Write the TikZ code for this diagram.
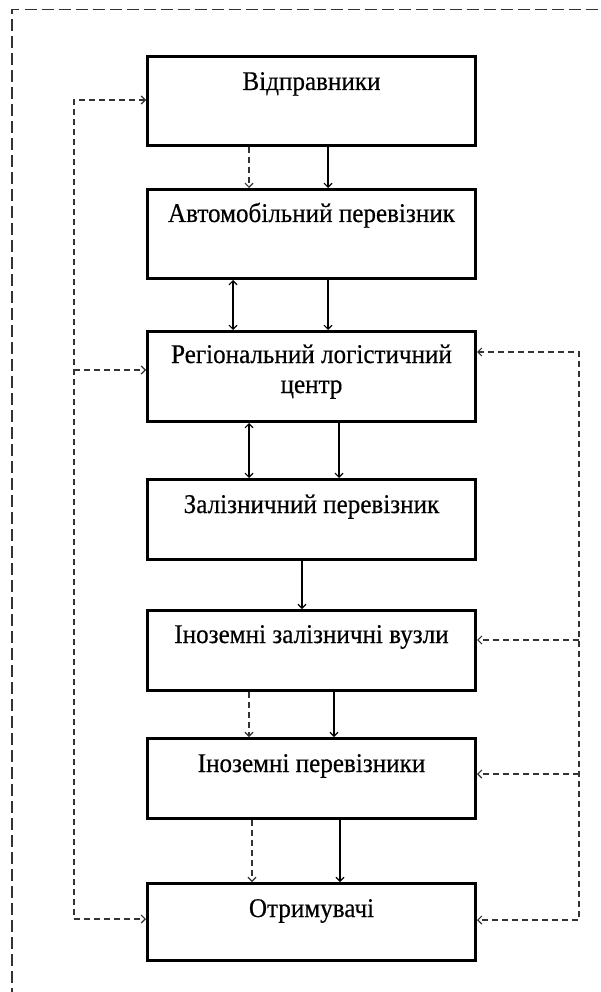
\documentclass[tikz,border=0pt]{standalone}
\usepackage{fontspec}
\setmainfont[FakeStretch=0.93,FakeBold=0.4]{Liberation Serif}
\usetikzlibrary{arrows.meta}

\begin{document}
\begin{tikzpicture}[x=1pt,y=-1pt,>={Straight Barb[length=4pt,width=8pt]},
  font=\fontsize{27}{30}\selectfont,
  blok/.style={draw,line width=3pt,anchor=north,minimum width=328pt,inner sep=0pt,align=center},
  potik/.style={->,line width=1.1pt},
  fb/.style={->,line width=1.2pt,dash pattern=on 6pt off 4pt,black!80},
  ramka/.style={line width=1.4pt,dash pattern=on 12pt off 5pt,black!80}]
\useasboundingbox (0,0) rectangle (601,992);
\draw[ramka] (12,1000) -- (12,9.5) -- (610,9.5);
% boxes
\node[blok,text height=33.5pt,text depth=55.5pt] (vidpr) at (311.5,55) {Відправники};
\node[blok,text height=32.5pt,text depth=56.5pt] (avto) at (311.5,188) {Автомобільний перевізник};
\node[blok,text height=61.5pt,text depth=28.5pt] (reg) at (311.5,330) {Регіональний логістичний\\центр};
\node[blok,text height=33.5pt,text depth=46.5pt] (zal) at (311.5,478) {Залізничний перевізник};
\node[blok,text height=32.5pt,text depth=47.5pt] (vuzly) at (311.5,609) {Іноземні залізничні вузли};
\node[blok,text height=33.5pt,text depth=46.5pt] (inoz) at (311.5,737) {Іноземні перевізники};
\node[blok,text height=33.5pt,text depth=43.5pt] (otr) at (311.5,882) {Отримувачі};
% flows between boxes
\draw[fb] ([xshift=-62.5pt]vidpr.south) -- ([xshift=-62.5pt]avto.north);
\draw[potik] ([xshift=16.5pt]vidpr.south) -- ([xshift=16.5pt]avto.north);
\draw[potik,<->] ([xshift=-78.5pt]avto.south) -- ([xshift=-78.5pt]reg.north);
\draw[potik] ([xshift=16.5pt]avto.south) -- ([xshift=16.5pt]reg.north);
\draw[potik,<->] ([xshift=-62.5pt]reg.south) -- ([xshift=-62.5pt]zal.north);
\draw[potik] ([xshift=27.5pt]reg.south) -- ([xshift=27.5pt]zal.north);
\draw[potik] ([xshift=-9.5pt]zal.south) -- ([xshift=-9.5pt]vuzly.north);
\draw[fb] ([xshift=-62.5pt]vuzly.south) -- ([xshift=-62.5pt]inoz.north);
\draw[potik] ([xshift=22.5pt]vuzly.south) -- ([xshift=22.5pt]inoz.north);
\draw[fb] ([xshift=-59.5pt]inoz.south) -- ([xshift=-59.5pt]otr.north);
\draw[potik] ([xshift=28.5pt]inoz.south) -- ([xshift=28.5pt]otr.north);
% feedback lines
\coordinate (lt) at (74,100);
\coordinate (l3) at (74,370);
\coordinate (lb) at (74,919);
\draw[fb,<->] (lt -| vidpr.west) -- (lt) -- (lb) -- (lb -| otr.west);
\draw[fb] (l3) -- (l3 -| reg.west);
\coordinate (rt) at (579,352);
\coordinate (r5) at (579,640);
\coordinate (r6) at (579,774);
\coordinate (rb) at (579,920);
\draw[fb,<->] (rt -| reg.east) -- (rt) -- (rb) -- (rb -| otr.east);
\draw[fb] (r5) -- (r5 -| vuzly.east);
\draw[fb] (r6) -- (r6 -| inoz.east);
\end{tikzpicture}
\end{document}
